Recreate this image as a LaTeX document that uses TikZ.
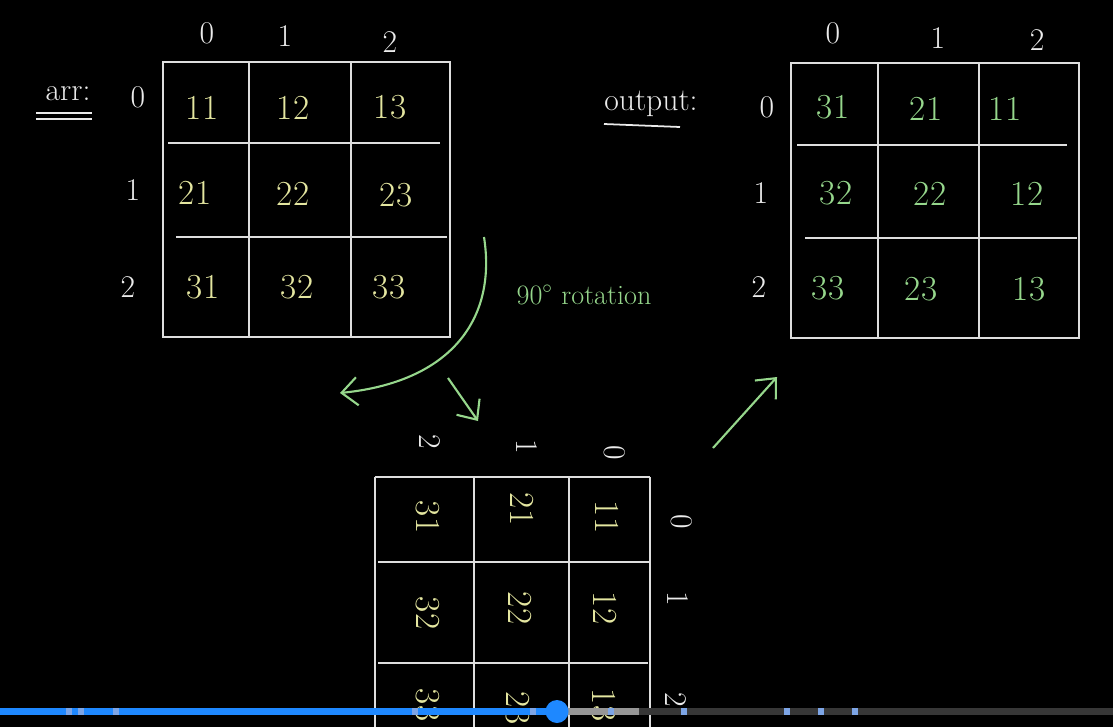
\documentclass[tikz,border=0pt]{standalone}
\usetikzlibrary{arrows.meta}
\definecolor{gridc}{RGB}{222,222,222}
\definecolor{yel}{RGB}{228,230,160}
\definecolor{grn}{RGB}{150,215,140}
\definecolor{lab}{RGB}{235,235,235}
\definecolor{pbblue}{RGB}{30,136,255}
\definecolor{pbgray}{RGB}{150,150,150}
\definecolor{pbdark}{RGB}{55,55,55}
\definecolor{pbmark}{RGB}{125,165,230}
\begin{document}
\begin{tikzpicture}[x=0.02cm,y=-0.02cm,
  gridline/.style={draw=gridc,line width=1.6pt},
  ycell/.style={text=yel,font=\fontsize{20}{24}\selectfont,inner sep=0pt},
  gcell/.style={text=grn,font=\fontsize{20}{24}\selectfont,inner sep=0pt},
  idx/.style={text=lab,font=\fontsize{18}{22}\selectfont,inner sep=0pt},
  rcell/.style={ycell,rotate=-90},
  ridx/.style={idx,rotate=-90},
  garrow/.style={draw=grn,line width=1.2pt,-{Straight Barb[length=9pt,width=16pt]}},
  uline/.style={draw=lab,line width=1pt}]
\fill[black] (0,0) rectangle (1113,727);
\clip (0,0) rectangle (1113,727);

% ---------- input matrix ----------
\draw[gridline] (163,62) rectangle (450,337);
\draw[gridline] (249,62) -- (249,337);
\draw[gridline] (351,62) -- (351,337);
\draw[gridline] (168,143) -- (440,143);
\draw[gridline] (176,237) -- (447,237);

\node[idx] (arrlab) at (68,94) {arr:};
\draw[uline] (36,113) -- (92,113);
\draw[uline] (36,119) -- (92,119);

\node[idx] (ic0) at (207,33) {0};
\node[idx] (ic1) at (285,36) {1};
\node[idx] (ic2) at (390,42) {2};
\node[idx] (ir0) at (138,97) {0};
\node[idx] (ir1) at (133,190) {1};
\node[idx] (ir2) at (128,287) {2};

\node[ycell] (a11) at (202,108) {11};
\node[ycell] (a12) at (293,108) {12};
\node[ycell] (a13) at (390,107) {13};
\node[ycell] (a21) at (195,193) {21};
\node[ycell] (a22) at (293,194) {22};
\node[ycell] (a23) at (396,195) {23};
\node[ycell] (a31) at (203,287) {31};
\node[ycell] (a32) at (297,287) {32};
\node[ycell] (a33) at (389,287) {33};

% ---------- output matrix ----------
\draw[gridline] (791,63) rectangle (1079,338);
\draw[gridline] (878,63) -- (878,338);
\draw[gridline] (979,63) -- (979,338);
\draw[gridline] (797,145) -- (1067,145);
\draw[gridline] (805,238) -- (1077,238);

\node[idx] (outlab) at (651,104) {output:};
\draw[uline] (604,124) -- (680,127);

\node[idx] (oc0) at (833,33) {0};
\node[idx] (oc1) at (938,38) {1};
\node[idx] (oc2) at (1037,40) {2};
\node[idx] (or0) at (767,107) {0};
\node[idx] (or1) at (761,193) {1};
\node[idx] (or2) at (759,287) {2};

\node[gcell] (b11) at (833,107) {31};
\node[gcell] (b12) at (926,109) {21};
\node[gcell] (b13) at (1005,109) {11};
\node[gcell] (b21) at (836,193) {32};
\node[gcell] (b22) at (930,194) {22};
\node[gcell] (b23) at (1027,194) {12};
\node[gcell] (b31) at (828,288) {33};
\node[gcell] (b32) at (921,289) {23};
\node[gcell] (b33) at (1029,289) {13};

% ---------- rotation arrows ----------
\node[text=grn,font=\fontsize{16}{19}\selectfont,inner sep=0pt] (rotlab) at (584,295) {90$^\circ$ rotation};
\coordinate (rs) at (484,237);
\coordinate (re) at (340,393);
\draw[garrow] (rs) .. controls (497,320) and (450,382) .. (re);
\coordinate (ds) at (448,378);
\coordinate (de) at (478,421);
\draw[garrow] (ds) -- (de);
\coordinate (us) at (713,448);
\coordinate (ue) at (777,377);
\draw[garrow] (us) -- (ue);

% ---------- rotated matrix ----------
\draw[gridline] (375,477) -- (650,477);
\draw[gridline] (375,477) -- (375,740);
\draw[gridline] (650,477) -- (650,740);
\draw[gridline] (474,477) -- (474,740);
\draw[gridline] (569,477) -- (569,740);
\draw[gridline] (378,562) -- (650,562);
\draw[gridline] (378,663) -- (648,663);

\node[ridx] (rc2) at (430,442) {2};
\node[ridx] (rc1) at (527,447) {1};
\node[ridx] (rc0) at (615,453) {0};
\node[ridx] (rr0) at (682,522) {0};
\node[ridx] (rr1) at (678,599) {1};
\node[ridx] (rr2) at (676,700) {2};

\node[rcell] (c11) at (428,517) {31};
\node[rcell] (c12) at (522,509) {21};
\node[rcell] (c13) at (607,517) {11};
\node[rcell] (c21) at (428,613) {32};
\node[rcell] (c22) at (520,608) {22};
\node[rcell] (c23) at (605,608) {12};
\node[rcell] (c31) at (428,705) {33};
\node[rcell] (c32) at (518,708) {23};
\node[rcell] (c33) at (604,705) {13};

% ---------- video progress bar ----------
\fill[pbdark] (639,708) rectangle (1113,715);
\fill[pbgray] (557,708) rectangle (639,715);
\fill[pbblue] (0,708) rectangle (557,715);
\foreach \mx in {66,78,113,412,530,608,681,784,818,852}
  \fill[pbmark] (\mx,708) rectangle ++(6,7);
\fill[pbblue] (557,711.5) circle [radius=11.5];
\end{tikzpicture}
\end{document}
